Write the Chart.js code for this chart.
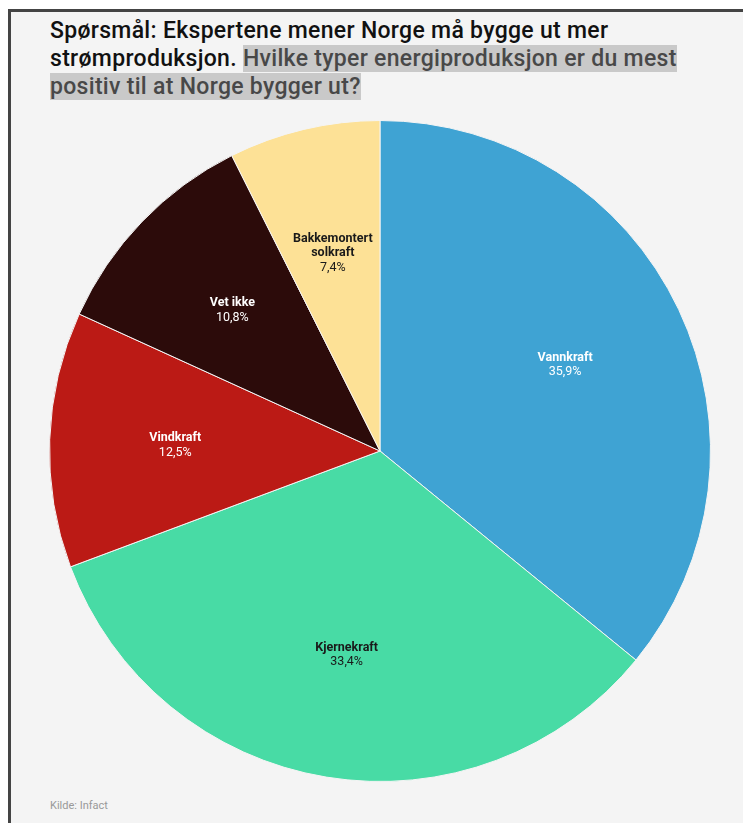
<!DOCTYPE html>
<html>
<head>
<meta charset="utf-8">
<script src="https://cdn.jsdelivr.net/npm/chart.js@4/dist/chart.umd.min.js"></script>
<style>
  html, body { margin: 0; padding: 0; background: #fff; }
  body { width: 743px; height: 823px; position: relative; overflow: hidden; font-family: Roboto, sans-serif; }
  #frame { position: absolute; left: 8px; top: 9px; right: 0; bottom: 0; background: #f4f4f4;
           border-top: 3px solid #444; border-left: 3px solid #444; }
  #title { position: absolute; left: 50px; top: 17px; width: 640px; font-size: 23px; line-height: 28px;
           font-weight: 500; color: #111; margin: 0; letter-spacing: 0.3px; }
  #title .hl { background: #c9c9c9; color: #484848; }
  #wrap { position: absolute; left: 49px; top: 120px; width: 662px; height: 662px; }
  #source { position: absolute; left: 50px; top: 799px; font-size: 11px; color: #999; }
</style>
</head>
<body>
<div id="frame"></div>
<p id="title">Spørsmål: Ekspertene mener Norge må bygge ut mer strømproduksjon. <span class="hl">Hvilke typer energiproduksjon er du mest positiv til at Norge bygger ut?</span></p>
<div id="wrap"><canvas id="pie"></canvas></div>
<div id="source">Kilde: Infact</div>
<script>
const labels = ['Vannkraft', 'Kjernekraft', 'Vindkraft', 'Vet ikke', 'Bakkemontert solkraft'];
const values = [35.9, 33.4, 12.5, 10.8, 7.4];
const colors = ['#3fa3d3', '#48dba5', '#bb1a15', '#2c0b0a', '#fde196'];
const textColors = ['#fff', '#1a1a1a', '#fff', '#fff', '#1a1a1a'];
const labelLines = [['Vannkraft'], ['Kjernekraft'], ['Vindkraft'], ['Vet ikke'], ['Bakkemontert', 'solkraft']];

const sliceLabels = {
  id: 'sliceLabels',
  afterDatasetsDraw(chart) {
    const ctx = chart.ctx;
    const meta = chart.getDatasetMeta(0);
    meta.data.forEach((arc, i) => {
      const p = arc.getProps(['x', 'y', 'startAngle', 'endAngle', 'outerRadius'], true);
      const mid = (p.startAngle + p.endAngle) / 2;
      const r = p.outerRadius * 0.62;
      const cx = p.x + Math.cos(mid) * r;
      const cy = p.y + Math.sin(mid) * r + 1.5;
      const lines = labelLines[i].concat([values[i].toFixed(1).replace('.', ',') + '%']);
      const lh = 14.5;
      const y0 = cy - (lines.length - 1) * lh / 2;
      ctx.save();
      ctx.textAlign = 'center';
      ctx.textBaseline = 'middle';
      ctx.fillStyle = textColors[i];
      lines.forEach((t, j) => {
        const isVal = j === lines.length - 1;
        ctx.font = (isVal ? '400' : '700') + ' 12.5px Roboto';
        ctx.fillText(t, cx, y0 + j * lh);
      });
      ctx.restore();
    });
  }
};

new Chart(document.getElementById('pie'), {
  type: 'pie',
  data: {
    labels: labels,
    datasets: [{ data: values, backgroundColor: colors, borderColor: '#f4f4f4', borderWidth: 1 }]
  },
  options: {
    responsive: true, maintainAspectRatio: false, animation: false,
    layout: { padding: 0 },
    plugins: { legend: { display: false }, tooltip: { enabled: false } }
  },
  plugins: [sliceLabels]
});
</script>
</body>
</html>
